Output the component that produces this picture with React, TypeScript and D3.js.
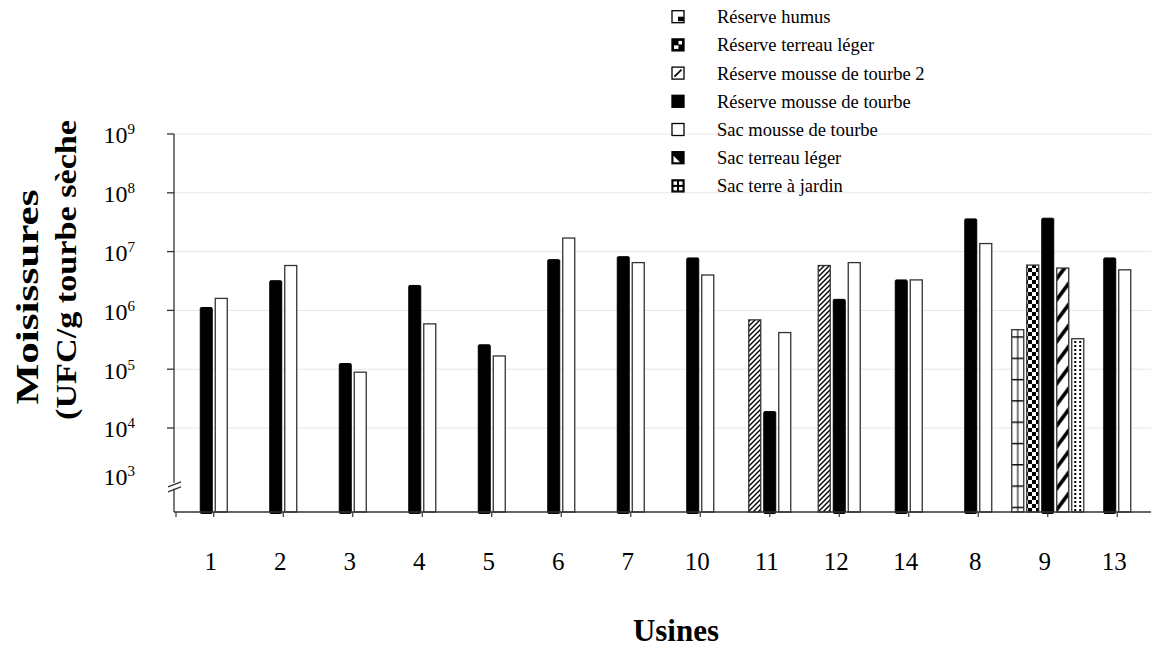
import React from "react";
import * as d3 from "d3";

// Usines, in the order they are plotted
const categories = ["1", "2", "3", "4", "5", "6", "7", "10", "11", "12", "14", "8", "9", "13"];

// Moisissures (UFC/g tourbe sèche); null = no sample
const reserveHumus = [null, null, null, null, null, null, null, null, null, null, null, null, 4.7e5, null];
const reserveTerreauLeger = [null, null, null, null, null, null, null, null, null, null, null, null, 5.9e6, null];
const reserveMousse2 = [null, null, null, null, null, null, null, null, 6.9e5, 5.8e6, null, null, null, null];
const reserveMousse = [1.12e6, 3.2e6, 1.25e5, 2.66e6, 2.6e5, 7.3e6, 8.2e6, 7.8e6, 1.9e4, 1.54e6, 3.3e6, 3.6e7, 3.7e7, 7.8e6];
const sacMousse = [1.6e6, 5.8e6, 8.9e4, 5.9e5, 1.68e5, 1.7e7, 6.5e6, 4.0e6, 4.2e5, 6.5e6, 3.3e6, 1.37e7, null, 4.9e6];
const sacTerreauLeger = [null, null, null, null, null, null, null, null, null, null, null, null, 5.25e6, null];
const sacTerreJardin = [null, null, null, null, null, null, null, null, null, null, null, null, 3.3e5, null];

const seriesLabels = [
  "Réserve humus",
  "Réserve terreau léger",
  "Réserve mousse de tourbe 2",
  "Réserve mousse de tourbe",
  "Sac mousse de tourbe",
  "Sac terreau léger",
  "Sac terre à jardin",
];

const yExponents = [3, 4, 5, 6, 7, 8, 9];

type Series = { key: string; label: string; values: (number | null)[] };

const series: Series[] = [
  { key: "humus", label: seriesLabels[0], values: reserveHumus },
  { key: "rterreau", label: seriesLabels[1], values: reserveTerreauLeger },
  { key: "mousse2", label: seriesLabels[2], values: reserveMousse2 },
  { key: "mousse", label: seriesLabels[3], values: reserveMousse },
  { key: "sacmousse", label: seriesLabels[4], values: sacMousse },
  { key: "sterreau", label: seriesLabels[5], values: sacTerreauLeger },
  { key: "jardin", label: seriesLabels[6], values: sacTerreJardin },
];

const W = 1151;
const H = 647;
const FONT = "'Liberation Serif', 'Times New Roman', serif";
const axisX = 174;
const baseY = 512;
const pitch = 15;
const barW = 12;

const y = d3.scaleLog().domain([1e3, 1e9]).range([486.8, 134]);
const x = d3.scaleBand<string>().domain(categories).range([179, 1152]);

type Bar = { s: Series; i: number; x0: number; v: number };

function buildBars(): Bar[] {
  const out: Bar[] = [];
  categories.forEach((c, i) => {
    const present = series.filter((s) => s.values[i] != null);
    const n = present.length;
    const center = (x(c) as number) + x.bandwidth() / 2;
    present.forEach((s, j) => {
      out.push({ s, i, x0: center + (j - (n - 1) / 2) * pitch - barW / 2, v: s.values[i] as number });
    });
  });
  return out;
}

function fillFor(b: Bar): string {
  switch (b.s.key) {
    case "mousse":
      return "#000";
    case "sacmousse":
      return "#fff";
    case "mousse2":
      return "url(#pat-mousse2)";
    case "rterreau":
      return "url(#pat-rterreau)";
    default:
      return `url(#pat-${b.s.key}-${b.i})`;
  }
}

function BarPattern({ b }: { b: Bar }) {
  const id = `pat-${b.s.key}-${b.i}`;
  if (b.s.key === "humus") {
    return (
      <pattern id={id} patternUnits="userSpaceOnUse" x={b.x0} y={baseY - 5.3} width={barW} height={21.3}>
        <rect width={barW} height={21.3} fill="#fff" />
        <rect x={0} y={-1.2} width={barW} height={2.6} fill="#000" />
        <rect x={barW / 2 - 0.5} y={0} width={1} height={21.3} fill="#000" />
      </pattern>
    );
  }
  if (b.s.key === "sterreau") {
    return (
      <pattern id={id} patternUnits="userSpaceOnUse" x={b.x0} y={baseY} width={barW} height={21}>
        <rect width={barW} height={21} fill="#fff" />
        <line x1={-1} y1={20} x2={barW + 1} y2={1} stroke="#000" strokeWidth={3.6} />
      </pattern>
    );
  }
  if (b.s.key === "jardin") {
    return (
      <pattern id={id} patternUnits="userSpaceOnUse" x={b.x0 + 1.5} y={baseY} width={5} height={4}>
        <rect width={5} height={4} fill="#fff" />
        <rect x={1} y={1} width={2} height={2} fill="#000" />
      </pattern>
    );
  }
  return null;
}

function LegendIcon({ k, x0, y0 }: { k: string; x0: number; y0: number }) {
  const s = 12;
  const frame = <rect x={x0} y={y0} width={s} height={s} fill="none" stroke="#000" strokeWidth={1.3} />;
  switch (k) {
    case "humus":
      return (
        <g>
          <rect x={x0} y={y0} width={s} height={s} fill="#fff" />
          <rect x={x0 + 6} y={y0 + 6} width={6} height={4.5} fill="#000" />
          {frame}
        </g>
      );
    case "rterreau":
      return (
        <g>
          <rect x={x0} y={y0} width={s} height={s} fill="#000" />
          <rect x={x0 + 6.5} y={y0 + 2} width={3.5} height={3.5} fill="#fff" />
          <rect x={x0 + 2} y={y0 + 6.5} width={4.5} height={3.5} fill="#fff" />
          {frame}
        </g>
      );
    case "mousse2":
      return (
        <g>
          <rect x={x0} y={y0} width={s} height={s} fill="#fff" />
          <line x1={x0 + 2.5} y1={y0 + 9.5} x2={x0 + 9.5} y2={y0 + 2.5} stroke="#000" strokeWidth={1.8} />
          {frame}
        </g>
      );
    case "mousse":
      return <rect x={x0} y={y0} width={s} height={s} fill="#000" stroke="#000" strokeWidth={1.3} />;
    case "sacmousse":
      return <rect x={x0} y={y0} width={s} height={s} fill="#fff" stroke="#000" strokeWidth={1.3} />;
    case "sterreau":
      return (
        <g>
          <rect x={x0} y={y0} width={s} height={s} fill="#000" />
          <polygon points={`${x0 + 1.5},${y0 + 4} ${x0 + 1.5},${y0 + 10.5} ${x0 + 8},${y0 + 10.5}`} fill="#fff" />
          {frame}
        </g>
      );
    case "jardin":
      return (
        <g>
          <rect x={x0} y={y0} width={s} height={s} fill="#000" />
          <rect x={x0 + 1.5} y={y0 + 1.5} width={3.5} height={3.5} fill="#fff" />
          <rect x={x0 + 7} y={y0 + 1.5} width={3.5} height={3.5} fill="#fff" />
          <rect x={x0 + 1.5} y={y0 + 7} width={3.5} height={3.5} fill="#fff" />
          <rect x={x0 + 7} y={y0 + 7} width={3.5} height={3.5} fill="#fff" />
          {frame}
        </g>
      );
    default:
      return null;
  }
}

export default function App() {
  const bars = buildBars();
  const gridVals = yExponents.filter((e) => e >= 4).map((e) => Math.pow(10, e));
  const breakTop = y(1e3) - 4;

  return (
    <svg
      width={W}
      height={H}
      viewBox={`0 0 ${W} ${H}`}
      style={{ position: "absolute", left: 0, top: 0, background: "#fff" }}
      fontFamily={FONT}
    >
      <defs>
        <pattern id="pat-mousse2" patternUnits="userSpaceOnUse" width={5} height={5}>
          <rect width={5} height={5} fill="#fff" />
          <path d="M-1,6 L6,-1 M-1,1 L1,-1 M4,6 L6,4" stroke="#000" strokeWidth={1.4} />
        </pattern>
        <pattern id="pat-rterreau" patternUnits="userSpaceOnUse" width={8} height={8}>
          <rect width={8} height={8} fill="#fff" />
          <rect x={0} y={0} width={4} height={4} fill="#000" />
          <rect x={4} y={4} width={4} height={4} fill="#000" />
        </pattern>
        {bars.map((b) => (
          <BarPattern key={`p-${b.s.key}-${b.i}`} b={b} />
        ))}
      </defs>

      {/* horizontal gridlines */}
      {gridVals.map((v) => (
        <line key={`g${v}`} x1={axisX} x2={W} y1={y(v)} y2={y(v)} stroke="#e6e6e6" strokeWidth={1} />
      ))}

      {/* legend */}
      {series.map((s, k) => {
        const cy = 16.7 + k * 28.2;
        return (
          <g key={`lg-${s.key}`}>
            <LegendIcon k={s.key} x0={672} y0={cy - 6} />
            <text x={717} y={cy} dy="0.35em" fontSize={18.5} fill="#000">
              {s.label}
            </text>
          </g>
        );
      })}

      {/* bars */}
      {bars.map((b) => {
        const top = y(b.v);
        const dark = b.s.key === "mousse";
        return (
          <rect
            key={`b-${b.s.key}-${b.i}`}
            x={b.x0}
            y={top}
            width={barW}
            height={baseY - top + (dark ? 1.5 : 0)}
            rx={dark ? 1.2 : 0}
            fill={fillFor(b)}
            stroke={dark ? "#000" : "#333"}
            strokeWidth={dark ? 1 : 1.3}
          />
        );
      })}

      {/* y axis with break */}
      <line x1={axisX} x2={axisX} y1={y(1e9)} y2={breakTop} stroke="#333" strokeWidth={1.3} />
      <line x1={axisX} x2={axisX} y1={breakTop + 6} y2={baseY} stroke="#333" strokeWidth={1.3} />
      <line x1={168} x2={181} y1={breakTop + 4} y2={breakTop - 1} stroke="#333" strokeWidth={1.3} />
      <line x1={168} x2={181} y1={breakTop + 9} y2={breakTop + 4} stroke="#333" strokeWidth={1.3} />
      {gridVals.map((v) => (
        <line key={`t${v}`} x1={axisX - 7} x2={axisX} y1={y(v)} y2={y(v)} stroke="#333" strokeWidth={1.3} />
      ))}
      {yExponents.map((e) => {
        const v = Math.pow(10, e);
        const ty = e === 3 ? y(v) - 10 : y(v) + 1;
        return (
          <text key={`yl${e}`} x={135} y={ty} dy="0.35em" textAnchor="end" fontSize={24} fill="#000">
            10
            <tspan fontSize={15} dy={-9}>
              {e}
            </tspan>
          </text>
        );
      })}

      {/* x axis */}
      <line x1={axisX} x2={W} y1={baseY} y2={baseY} stroke="#333" strokeWidth={1.3} />
      <line x1={axisX + 2} x2={axisX + 2} y1={baseY} y2={baseY + 5} stroke="#333" strokeWidth={1.2} />
      {categories.map((c) => {
        const cx = (x(c) as number) + x.bandwidth() / 2;
        return (
          <g key={`xt${c}`}>
            <line x1={cx} x2={cx} y1={baseY} y2={baseY + 5} stroke="#333" strokeWidth={1.2} />
            <text x={cx - 3} y={570} textAnchor="middle" fontSize={25} fill="#000">
              {c}
            </text>
          </g>
        );
      })}

      {/* axis titles */}
      <text x={676} y={641} textAnchor="middle" fontSize={31} fontWeight="bold" fill="#000">
        Usines
      </text>
      <text
        transform="translate(38,297) rotate(-90)"
        textAnchor="middle"
        fontSize={32}
        fontWeight="bold"
        fill="#000"
        textLength={215}
        lengthAdjust="spacingAndGlyphs"
      >
        Moisissures
      </text>
      <text
        transform="translate(76,270) rotate(-90)"
        textAnchor="middle"
        fontSize={29}
        fontWeight="bold"
        fill="#000"
        textLength={300}
        lengthAdjust="spacingAndGlyphs"
      >
        (UFC/g tourbe sèche
      </text>
    </svg>
  );
}
